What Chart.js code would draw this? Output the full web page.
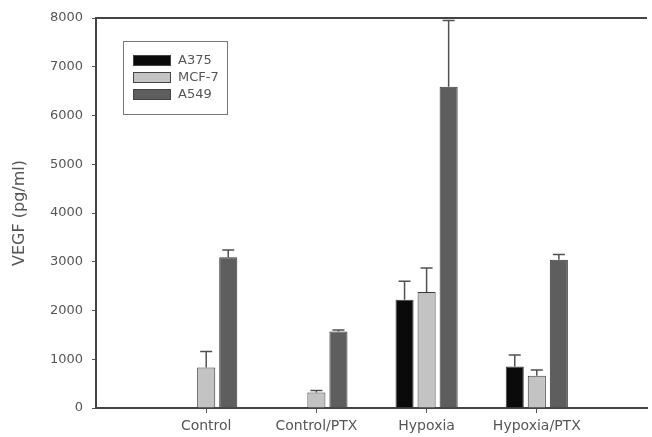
<!DOCTYPE html>
<html>
<head>
<meta charset="utf-8">
<script src="https://cdn.jsdelivr.net/npm/chart.js@4/dist/chart.umd.min.js"></script>
<style>
  html, body { margin: 0; padding: 0; background: #fff; }
  #wrap { width: 652px; height: 437px; }
</style>
</head>
<body>
<div id="wrap"><canvas id="vegfChart" width="652" height="437"></canvas></div>
<script>
const categories = ["Control", "Control/PTX", "Hypoxia", "Hypoxia/PTX"];
const seriesNames = ["A375", "MCF-7", "A549"];
const a375 = [0, 0, 2220, 850];
const mcf7 = [830, 320, 2380, 660];
const a549 = [3090, 1570, 6590, 3040];
const a375Err = [0, 0, 380, 235];
const mcf7Err = [330, 40, 490, 120];
const a549Err = [150, 30, 1360, 110];
const yTicks = [0, 1000, 2000, 3000, 4000, 5000, 6000, 7000, 8000];

const colors = ["#0a0a0a", "#c3c3c3", "#5e5e5e"];
const textColor = "#555";

// empty slot on each side so the groups sit where the original figure has them
const labels = ["", ...categories, ""];
const pad = arr => [null, ...arr, null];

const errorBars = {
  id: "errorBars",
  afterDatasetsDraw(chart) {
    const c = chart.ctx;
    const yScale = chart.scales.y;
    c.save();
    c.strokeStyle = "#505050";
    c.lineWidth = 1.5;
    chart.data.datasets.forEach((ds, i) => {
      const meta = chart.getDatasetMeta(i);
      meta.data.forEach((bar, j) => {
        const err = ds.errors[j];
        if (!err) return;
        const top = yScale.getPixelForValue(ds.data[j] + err);
        c.beginPath();
        c.moveTo(bar.x, bar.y);
        c.lineTo(bar.x, top);
        c.moveTo(bar.x - 6, top);
        c.lineTo(bar.x + 6, top);
        c.stroke();
      });
    });
    c.restore();
  }
};

const frameAndLegend = {
  id: "frameAndLegend",
  afterDraw(chart) {
    const c = chart.ctx;
    const area = chart.chartArea;
    c.save();
    // top frame line
    c.strokeStyle = "#444";
    c.lineWidth = 2;
    c.beginPath();
    c.moveTo(area.left, area.top);
    c.lineTo(area.right, area.top);
    c.stroke();

    // boxed legend in the upper left
    c.strokeStyle = "#777";
    c.lineWidth = 1;
    c.strokeRect(123.5, 41.5, 104, 73);
    c.font = "13px 'DejaVu Sans'";
    c.textBaseline = "middle";
    chart.data.datasets.forEach((ds, i) => {
      const y = 55 + i * 17;
      c.fillStyle = ds.backgroundColor;
      c.fillRect(133, y, 38, 11);
      c.strokeStyle = "#444";
      c.strokeRect(133.5, y + 0.5, 37, 10);
      c.fillStyle = textColor;
      c.fillText(ds.label, 178, y + 6);
    });
    c.restore();
  }
};

const ctx = document.getElementById("vegfChart").getContext("2d");

new Chart(ctx, {
  type: "bar",
  data: {
    labels: labels,
    datasets: [
      { label: seriesNames[0], data: pad(a375), errors: pad(a375Err), backgroundColor: colors[0] },
      { label: seriesNames[1], data: pad(mcf7), errors: pad(mcf7Err), backgroundColor: colors[1] },
      { label: seriesNames[2], data: pad(a549), errors: pad(a549Err), backgroundColor: colors[2] }
    ]
  },
  options: {
    responsive: false,
    animation: false,
    layout: { padding: { top: 18, right: 0, bottom: 0, left: 0 } },
    datasets: {
      bar: {
        categoryPercentage: 0.6,
        barPercentage: 0.82,
        borderColor: "#3a3a3a",
        borderWidth: 1
      }
    },
    plugins: {
      legend: { display: false },
      tooltip: { enabled: false }
    },
    scales: {
      x: {
        offset: false,
        afterFit: scale => { scale.height = 29; },
        border: { display: true, color: "#444", width: 2 },
        grid: {
          offset: false,
          drawOnChartArea: false,
          drawTicks: true,
          tickLength: 5,
          tickColor: c => (c.index === 0 || c.index === labels.length - 1) ? "rgba(0,0,0,0)" : "#555"
        },
        ticks: {
          color: textColor,
          padding: 5,
          maxRotation: 0,
          autoSkip: false,
          font: { family: "'DejaVu Sans'", size: 14 }
        }
      },
      y: {
        min: 0,
        max: 8000,
        afterFit: scale => { scale.width = 96; },
        afterBuildTicks: scale => { scale.ticks = yTicks.map(v => ({ value: v })); },
        border: { display: true, color: "#444", width: 2 },
        grid: { drawOnChartArea: false, drawTicks: true, tickLength: 4, tickColor: "#555" },
        ticks: {
          color: textColor,
          padding: 9,
          callback: v => String(v),
          font: { family: "'DejaVu Sans'", size: 13 }
        },
        title: {
          display: true,
          text: "VEGF (pg/ml)",
          color: textColor,
          padding: { top: 10, bottom: 0 },
          font: { family: "'DejaVu Sans'", size: 16 }
        }
      }
    }
  },
  plugins: [errorBars, frameAndLegend]
});
</script>
</body>
</html>
